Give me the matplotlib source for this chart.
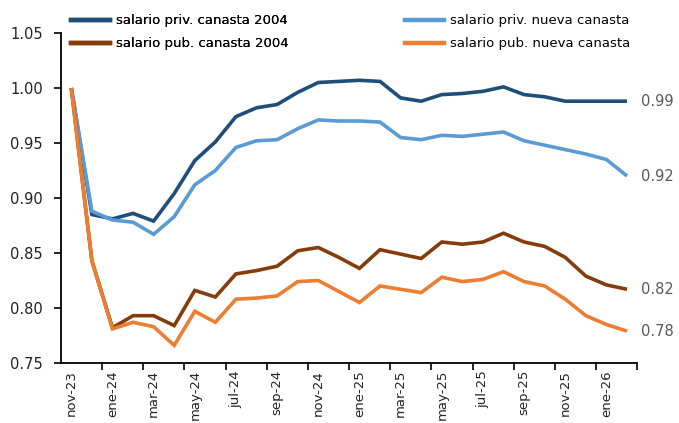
import numpy as np
import matplotlib
matplotlib.use("Agg")
import matplotlib.pyplot as plt
from matplotlib.lines import Line2D

# =========================
# DATA
# =========================
MONTHS = ["nov-23", "dic-23", "ene-24", "feb-24", "mar-24", "abr-24", "may-24",
          "jun-24", "jul-24", "ago-24", "sep-24", "oct-24", "nov-24", "dic-24",
          "ene-25", "feb-25", "mar-25", "abr-25", "may-25", "jun-25", "jul-25",
          "ago-25", "sep-25", "oct-25", "nov-25", "dic-25", "ene-26", "feb-26"]

PRIV_2004 = [1.000, 0.885, 0.881, 0.886, 0.879, 0.904, 0.934, 0.951, 0.974, 0.982,
             0.985, 0.996, 1.005, 1.006, 1.007, 1.006, 0.991, 0.988, 0.994, 0.995,
             0.997, 1.001, 0.994, 0.992, 0.988, 0.988, 0.988, 0.988]
PRIV_NUEVA = [1.000, 0.888, 0.880, 0.878, 0.867, 0.883, 0.912, 0.925, 0.946, 0.952,
              0.953, 0.963, 0.971, 0.970, 0.970, 0.969, 0.955, 0.953, 0.957, 0.956,
              0.958, 0.960, 0.952, 0.948, 0.944, 0.940, 0.935, 0.920]
PUB_2004 = [1.000, 0.843, 0.782, 0.793, 0.793, 0.784, 0.816, 0.810, 0.831, 0.834,
            0.838, 0.852, 0.855, 0.846, 0.836, 0.853, 0.849, 0.845, 0.860, 0.858,
            0.860, 0.868, 0.860, 0.856, 0.846, 0.829, 0.821, 0.817]
PUB_NUEVA = [1.000, 0.843, 0.781, 0.787, 0.783, 0.766, 0.797, 0.787, 0.808, 0.809,
             0.811, 0.824, 0.825, 0.815, 0.805, 0.820, 0.817, 0.814, 0.828, 0.824,
             0.826, 0.833, 0.824, 0.820, 0.808, 0.793, 0.785, 0.779]

LABELS = ["salario priv. canasta 2004", "salario priv. nueva canasta",
          "salario pub. canasta 2004", "salario pub. nueva canasta"]

# =========================
# STYLE
# =========================
C_PRIV_2004 = "#1F4E79"
C_PRIV_NUEVA = "#5B9BD5"
C_PUB_2004 = "#843C0C"
C_PUB_NUEVA = "#ED7D31"
LW = 2.6
TEXT_GRAY = "#595959"

plt.rcParams["font.family"] = ["DejaVu Sans"]

fig = plt.figure(figsize=(6.79, 4.23), dpi=100)
ax = fig.add_axes([61 / 679, 1 - 363 / 423, (637.3 - 61) / 679, (363 - 33) / 423])

x = np.arange(len(MONTHS))
series = [(PRIV_2004, C_PRIV_2004, LABELS[0]),
          (PRIV_NUEVA, C_PRIV_NUEVA, LABELS[1]),
          (PUB_2004, C_PUB_2004, LABELS[2]),
          (PUB_NUEVA, C_PUB_NUEVA, LABELS[3])]

for vals, col, lab in series:
    ax.plot(x, vals, color=col, linewidth=LW, solid_joinstyle="miter",
            solid_capstyle="butt", label=lab)
    ax.annotate(f"{vals[-1]:.2f}", xy=(x[-1], vals[-1]), xytext=(14, 0),
                textcoords="offset pixels", va="center", ha="left",
                fontsize=10.5, color=TEXT_GRAY, annotation_clip=False)

ax.set_xlim(-0.5, len(MONTHS) - 0.5)
ax.set_ylim(0.75, 1.05)

# x axis: tick marks between categories, labels every 2 months
ax.set_xticks(np.arange(1.5, len(MONTHS), 2))
ax.set_xticklabels([])
ax.set_xticks(x[::2], minor=True)
ax.set_xticklabels(MONTHS[::2], minor=True, rotation=90, fontsize=9.5, color="#222222")
ax.tick_params(axis="x", which="major", direction="out", length=5, width=1.2)
ax.tick_params(axis="x", which="minor", length=0, pad=5)

ax.set_yticks(np.arange(0.75, 1.051, 0.05))
ax.set_yticklabels([f"{v:.2f}" for v in np.arange(0.75, 1.051, 0.05)])
ax.tick_params(axis="y", direction="out", length=5, width=1.2, pad=8,
               labelsize=10.5, labelcolor="#222222")

for s in ["top", "right"]:
    ax.spines[s].set_visible(False)
for s in ["left", "bottom"]:
    ax.spines[s].set_linewidth(1.3)

# two legend columns placed separately
h = [Line2D([], [], color=c, linewidth=3.2) for _, c, _ in series]
leg_kw = dict(loc="upper left", frameon=False, fontsize=9.5, handlelength=2.9,
              handletextpad=0.5, labelspacing=0.75, borderaxespad=0)
leg1 = fig.legend([h[0], h[2]], [LABELS[0], LABELS[2]],
                  bbox_to_anchor=(66 / 679, 1 - 9 / 423), **leg_kw)
fig.add_artist(leg1)
fig.legend([h[1], h[3]], [LABELS[1], LABELS[3]],
           bbox_to_anchor=(400 / 679, 1 - 9 / 423), **leg_kw)

fig.savefig("out.png", dpi=100)
